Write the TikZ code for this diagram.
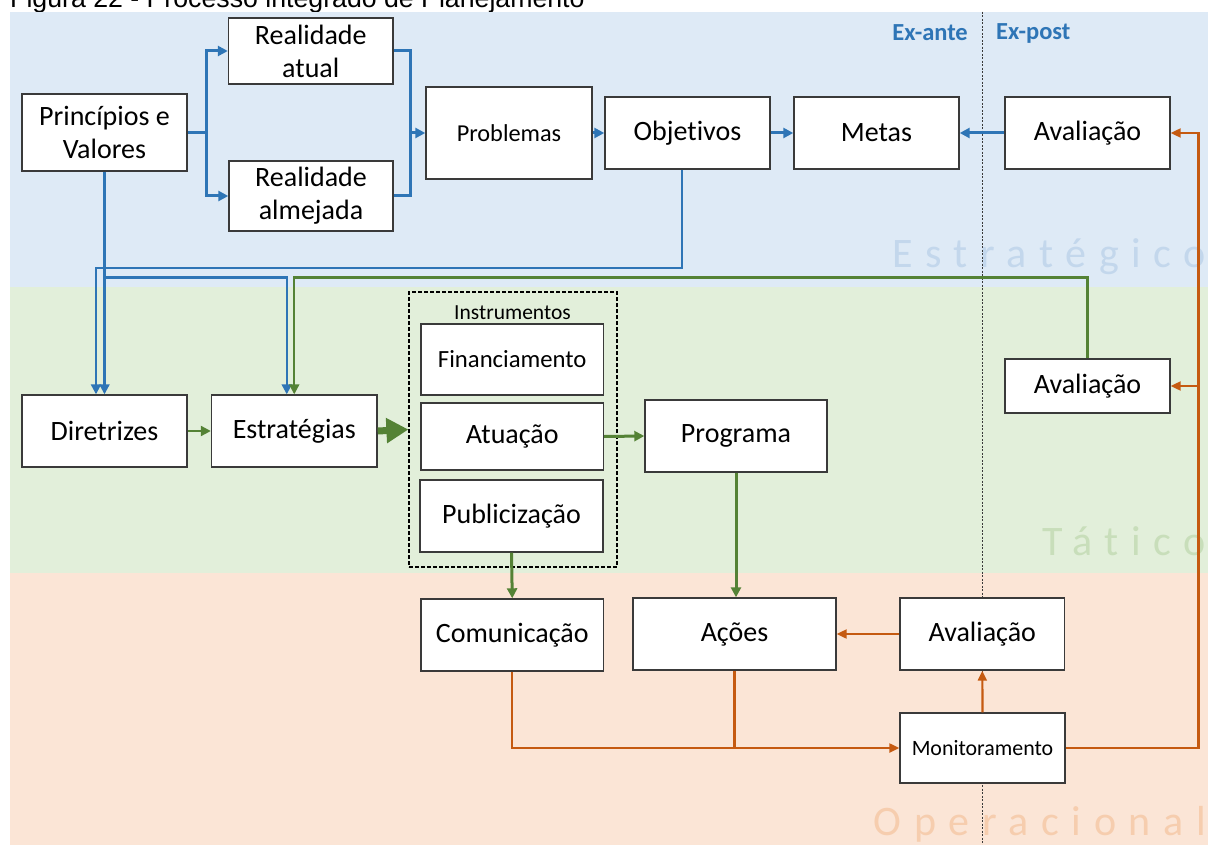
\documentclass[tikz,border=0pt]{standalone}
\usepackage{fontspec}
\setmainfont[Ligatures=NoCommon]{Carlito}
\newfontfamily\capfont{Liberation Sans}
\newfontfamily\wmfont[LetterSpace=30,Ligatures=NoCommon]{Carlito}
\usetikzlibrary{arrows.meta,calc}
\definecolor{bgblue}{HTML}{DEEAF6}
\definecolor{bggreen}{HTML}{E2EFDA}
\definecolor{bgorange}{HTML}{FBE5D6}
\definecolor{lblue}{HTML}{2E75B6}
\definecolor{lgreen}{HTML}{548235}
\definecolor{lorange}{HTML}{C55A11}
\definecolor{wmblue}{HTML}{C3D7EC}
\definecolor{wmgreen}{HTML}{C8DEBA}
\definecolor{wmorange}{HTML}{F6CDAE}
\definecolor{boxline}{HTML}{3A3A3A}
\begin{document}
\begin{tikzpicture}[x=1pt,y=-1pt,
  box/.style={draw=boxline,line width=1.4pt,fill=white,inner sep=0pt,align=center,
    font=\fontsize{28}{33}\selectfont},
  bline/.style={draw=lblue,line width=3pt},
  bthin/.style={draw=lblue,line width=2.2pt},
  barrow/.style={-{Triangle[length=10pt,width=10pt]}},
  gthin/.style={draw=lgreen,line width=2.2pt},
  gthick/.style={draw=lgreen,line width=3pt},
  garrow/.style={-{Triangle[length=10pt,width=10pt]}},
  gbig/.style={draw=lgreen,line width=7pt,-{Triangle[length=22pt,width=24pt]}},
  oline/.style={draw=lorange,line width=2.2pt},
  oarrow/.style={-{Triangle[length=10pt,width=9pt]}},
  wm/.style={anchor=base east,inner sep=0pt,font=\wmfont\fontsize{42}{42}\selectfont},
  phase/.style={inner sep=0pt,text=lblue,font=\bfseries\fontsize{24.5}{28}\selectfont}
]
\useasboundingbox (0,0) rectangle (1213,845);
\fill[white] (0,0) rectangle (1213,845);
% caption (top cut off, as in the source)
\node[anchor=base west,inner sep=0pt,font=\capfont\fontsize{26.7}{30}\selectfont] (cap) at (10,8) {Figura 22 - Processo integrado de Planejamento};
% bands
\fill[bgblue] (9.5,11.7) rectangle (1208,287);
\fill[bggreen] (9.5,287) rectangle (1208,573);
\fill[bgorange] (9.5,573) rectangle (1208,845);
% watermarks
\node[wm,text=wmblue] (wm1) at (1206,268) {Estratégico};
\node[wm,text=wmgreen] (wm2) at (1206,555) {Tático};
\node[wm,text=wmorange] (wm3) at (1206,835) {Operacional};
% ex-ante / ex-post divider
\draw[boxline,line width=1pt,dash pattern=on 2pt off 1.5pt] (982,11.7) -- (982,845);
\node[phase,anchor=east] (exa) at (968,33) {Ex-ante};
\node[phase,anchor=west] (exp) at (996,33) {Ex-post};

% instruments frame
\node[draw=black,dash pattern=on 4pt off 2pt,line width=1.2pt,minimum width=208pt,minimum height=275pt,inner sep=0pt] (inst) at (513,429.5) {};
\node[inner sep=0pt,font=\fontsize{21.5}{24}\selectfont] (instl) at (512.5,313) {Instrumentos};

% boxes
\node[box,minimum width=165pt,minimum height=77pt] (pv) at (104.5,132.5) {Princípios e\\Valores};
\node[box,minimum width=164.5pt,minimum height=66pt] (ra) at (310.75,51) {Realidade\\atual};
\node[box,minimum width=164pt,minimum height=70pt] (ral) at (311,196) {Realidade\\almejada};
\node[box,minimum width=166pt,minimum height=92pt,font=\fontsize{24.3}{28}\selectfont] (pb) at (509,133) {Problemas};
\node[box,minimum width=165pt,minimum height=72pt] (ob) at (687.5,133) {Objetivos};
\node[box,minimum width=165pt,minimum height=72pt] (mt) at (876.5,133) {Metas};
\node[box,minimum width=165pt,minimum height=72pt] (av1) at (1087.5,133) {Avaliação};
\node[box,minimum width=165pt,minimum height=72pt] (dir) at (104.5,431) {Diretrizes};
\node[box,minimum width=165.5pt,minimum height=72pt] (est) at (294.25,431) {Estratégias};
\node[box,minimum width=182.5pt,minimum height=71pt,font=\fontsize{24.7}{28}\selectfont] (fin) at (512.25,359.5) {Financiamento};
\node[box,minimum width=182.5pt,minimum height=67pt] (at) at (512.25,436.5) {Atuação};
\node[box,minimum width=183pt,minimum height=72pt] (pbl) at (511.5,516) {Publicização};
\node[box,minimum width=182pt,minimum height=72pt] (pg) at (736,436) {Programa};
\node[box,minimum width=165pt,minimum height=54pt] (av2) at (1087.5,386) {Avaliação};
\node[box,minimum width=182.5pt,minimum height=72pt] (com) at (512.25,635) {Comunicação};
\node[box,minimum width=203pt,minimum height=72pt] (ac) at (734.5,634) {Ações};
\node[box,minimum width=164.5pt,minimum height=72pt] (av3) at (982.3,634) {Avaliação};
\node[box,minimum width=165pt,minimum height=70pt,font=\fontsize{21.9}{26}\selectfont] (mon) at (982.5,748) {Monitoramento};

% blue connectors
\coordinate (j1) at (206,132.5);
\coordinate (j2) at (410,133);
\draw[bline] (pv.east) -- (j1);
\draw[bline,barrow] (j1) |- (ra.west);
\draw[bline,barrow] (j1) |- (ral.west);
\draw[bline] (ra.east) -| (j2);
\draw[bline] (ral.east) -| (j2);
\draw[bline,barrow] (j2) -- (pb.west);
\draw[bline,barrow] (pb.east) -- (ob.west);
\draw[bline,barrow] (ob.east) -- (mt.west);
\draw[bline,barrow] (av1.west) -- (mt.east);
\coordinate (h1) at (96,268);
\coordinate (h2) at (0,277.5);
\draw[bthin,barrow] (pv.south) -- (pv.south |- dir.north);
\draw[bthin,barrow] ([xshift=-5.5pt]ob.south) |- (h1) -- (h1 |- dir.north);
\draw[bthin,barrow] (pv.south |- h2) -| ([xshift=-7.5pt]est.north);

% green connectors
\draw[gthin,garrow] (av2.north) |- (h2 -| est.north) -- (est.north);
\draw[gthin,garrow] (dir.east) -- (est.west);
\draw[gbig] (est.east) -- (inst.west);
\draw[gthick,garrow] (at.east) -- (pg.west);
\draw[gthick,garrow] (pbl.south) -- (com.north);
\draw[gthick,garrow] (pg.south) -- (pg.south |- ac.north);

% orange connectors
\coordinate (r1) at (1198.5,133);
\coordinate (r2) at (1198.5,386);
\draw[oline,oarrow] (com.south) |- (mon.west);
\draw[oline] (ac.south) -- (ac.south |- mon.west);
\draw[oline,oarrow] (mon.north) -- (av3.south);
\draw[oline,oarrow] (av3.west) -- (ac.east);
\draw[oline,oarrow] (mon.east) -| (r1) -- (av1.east);
\draw[oline,oarrow] (r2) -- (av2.east);
\end{tikzpicture}
\end{document}
